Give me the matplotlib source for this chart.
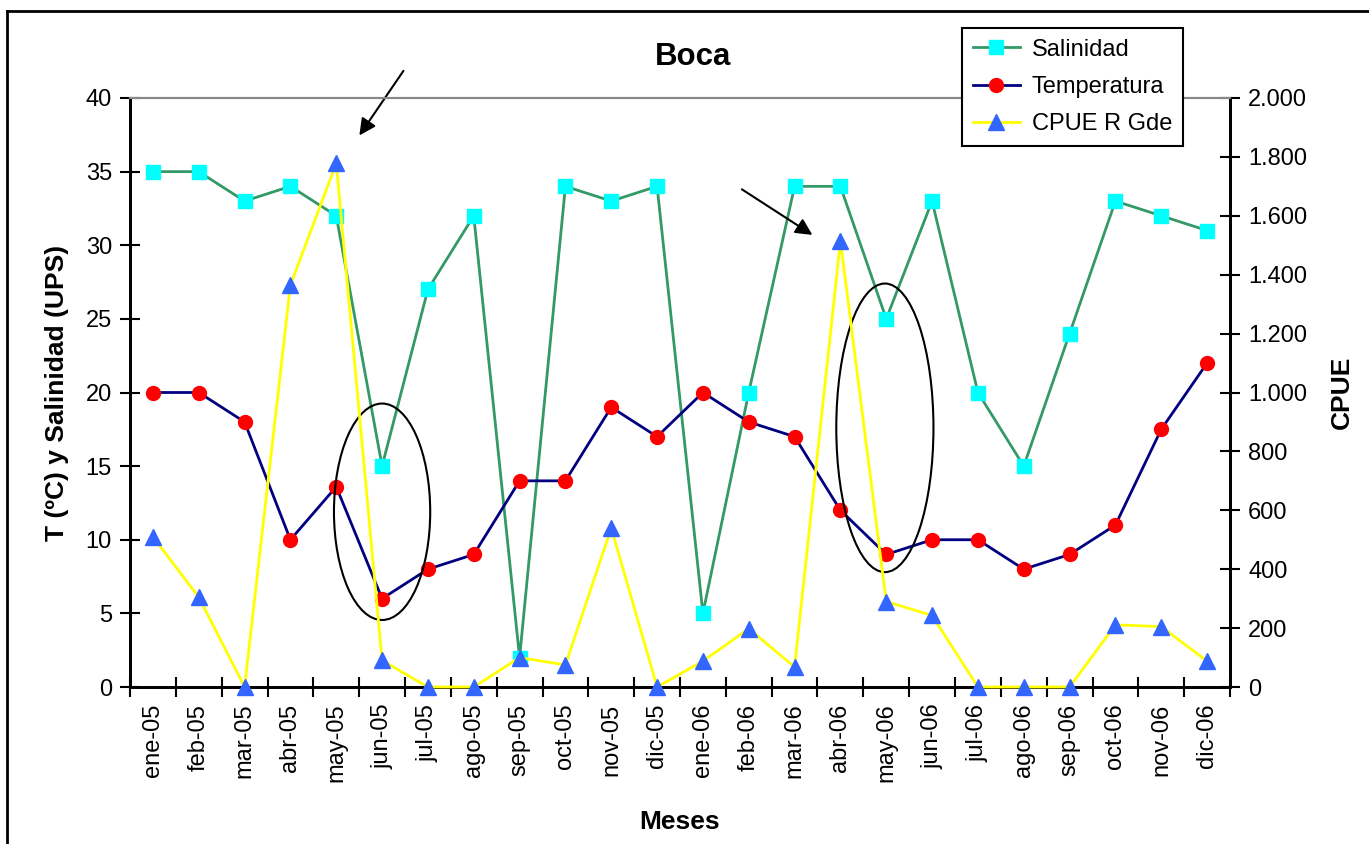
import numpy as np
import matplotlib.pyplot as plt
from matplotlib.patches import Ellipse
from matplotlib.lines import Line2D
from matplotlib.ticker import FuncFormatter

plt.rcParams['font.family'] = ['Liberation Sans', 'DejaVu Sans']

# datos
meses = ['ene-05', 'feb-05', 'mar-05', 'abr-05', 'may-05', 'jun-05', 'jul-05', 'ago-05',
         'sep-05', 'oct-05', 'nov-05', 'dic-05', 'ene-06', 'feb-06', 'mar-06', 'abr-06',
         'may-06', 'jun-06', 'jul-06', 'ago-06', 'sep-06', 'oct-06', 'nov-06', 'dic-06']
salinidad = [35, 35, 33, 34, 32, 15, 27, 32, 2, 34, 33, 34,
             5, 20, 34, 34, 25, 33, 20, 15, 24, 33, 32, 31]
temperatura = [20, 20, 18, 10, 13.6, 6, 8, 9, 14, 14, 19, 17,
               20, 18, 17, 12, 9, 10, 10, 8, 9, 11, 17.5, 22]
cpue = [510, 305, 0, 1365, 1778, 90, 0, 0, 100, 75, 540, 0,
        88, 198, 68, 1515, 290, 243, 0, 0, 0, 211, 205, 88]

x = np.arange(len(meses))

fig = plt.figure(figsize=(13.69, 8.44), dpi=100)
ax = fig.add_axes([130/1369, 1-687/844, 1100/1369, 589/844])
ax2 = ax.twinx()

ax.plot(x, salinidad, color='#339966', lw=2, marker='s', ms=10,
        mfc='#00FFFF', mec='#00FFFF', label='Salinidad', clip_on=False, zorder=3)
ax.plot(x, temperatura, color='#000080', lw=2, marker='o', ms=10,
        mfc='#FF0000', mec='#FF0000', label='Temperatura', clip_on=False, zorder=3)
ax2.plot(x, cpue, color='#FFFF00', lw=2, marker='^', ms=12,
         mfc='#3366FF', mec='#3366FF', label='CPUE R Gde', clip_on=False, zorder=3)

ax.set_xlim(-0.5, len(meses)-0.5)
ax.set_ylim(0, 40)
ax2.set_ylim(0, 2000)
ax.set_yticks(np.arange(0, 41, 5))
ax2.set_yticks(np.arange(0, 2001, 200))
ax2.yaxis.set_major_formatter(FuncFormatter(lambda v, p: f'{int(v):,}'.replace(',', '.')))

ax.set_xticks(x)
ax.set_xticklabels(meses, rotation=90, fontsize=17)
ax.set_xticks(np.arange(-0.5, len(meses), 1), minor=True)
ax.tick_params(axis='x', which='major', length=0, pad=12)
ax.tick_params(axis='x', which='minor', direction='inout', length=14, width=1.5)
ax.tick_params(axis='y', direction='inout', length=14, width=1.5, labelsize=17, pad=6)
ax2.tick_params(axis='y', direction='inout', length=14, width=1.5, labelsize=17, pad=6)

for a in (ax, ax2):
    a.spines['top'].set_color('#888888')
    a.spines['top'].set_linewidth(1.5)
    for s in ('left', 'right', 'bottom'):
        a.spines[s].set_linewidth(2)

ax.set_ylabel('T (ºC) y Salinidad (UPS)', fontsize=19, fontweight='bold', labelpad=12)
ax2.set_ylabel('CPUE', fontsize=19, fontweight='bold', labelpad=16)
ax.set_xlabel('Meses', fontsize=19, fontweight='bold', labelpad=20)
fig.text(693/1369, 1-57/844, 'Boca', fontsize=22.5, fontweight='bold', ha='center', va='center')

# elipses y flechas
ax.add_patch(Ellipse((5.0, 11.9), 2.1, 14.7, fill=False, ec='black', lw=1.5, zorder=4))
ax.add_patch(Ellipse((15.97, 17.6), 2.12, 19.6, fill=False, ec='black', lw=1.5, zorder=4))
ax.annotate('', xy=(4.47, 37.3), xytext=(5.5, 42.0), annotation_clip=False,
            arrowprops=dict(arrowstyle='-|>', color='black', lw=1.5, mutation_scale=25))
ax.annotate('', xy=(14.44, 30.6), xytext=(12.8, 33.9), annotation_clip=False,
            arrowprops=dict(arrowstyle='-|>', color='black', lw=1.5, mutation_scale=25))

# leyenda
handles = ax.get_lines() + ax2.get_lines()
leg = fig.legend(handles=handles, loc='upper left', bbox_to_anchor=(962/1369, 1-28/844),
                 borderaxespad=0, fontsize=17, frameon=True, fancybox=False, framealpha=1,
                 edgecolor='black', handlelength=2.0, handletextpad=0.5,
                 borderpad=0.45, labelspacing=0.65)
leg.get_frame().set_linewidth(1.5)
leg.set_zorder(10)

# borde exterior
fig.add_artist(Line2D([7/1369, 7/1369], [0, 1-11/844], color='black', lw=2))
fig.add_artist(Line2D([7/1369, 1], [1-11/844, 1-11/844], color='black', lw=2))

plt.savefig('out.png', dpi=100)
